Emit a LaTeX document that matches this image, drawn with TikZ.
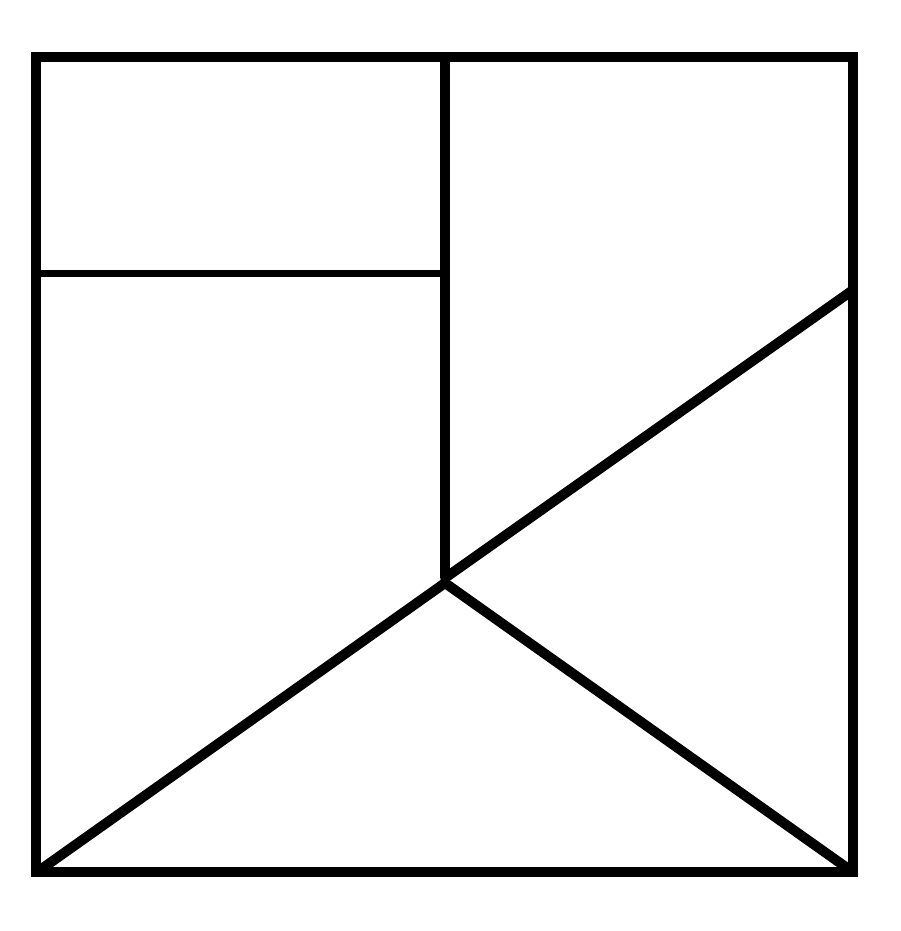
\documentclass[tikz,border=0pt]{standalone}
\begin{document}
\begin{tikzpicture}[x=1pt,y=-1pt,
  thick line/.style={line width=10pt,line join=miter,black},
  thin line/.style={line width=7pt,black}]
\useasboundingbox (0,0) rectangle (900,931);
\coordinate (tl) at (36,57);
\coordinate (tr) at (853,57);
\coordinate (br) at (853,872);
\coordinate (bl) at (36,872);
\coordinate (vt) at (445,57);
\coordinate (vb) at (445,578);
\coordinate (hl) at (36,273.5);
\coordinate (hr) at (445,273.5);
\coordinate (dr) at (853,290);
\coordinate (apex) at (445,583);
\coordinate (blc) at (40,870);
\coordinate (brc) at (850,870);
\draw[thin line] (hl) -- (hr);
\draw[thick line] (vt) -- (vb);
\draw[thick line,line cap=round] (vb) -- (dr);
\draw[thick line,line join=round] (blc) -- (apex) -- (brc);
\draw[thick line] (tl) -- (tr) -- (br) -- (bl) -- cycle;
\end{tikzpicture}
\end{document}
